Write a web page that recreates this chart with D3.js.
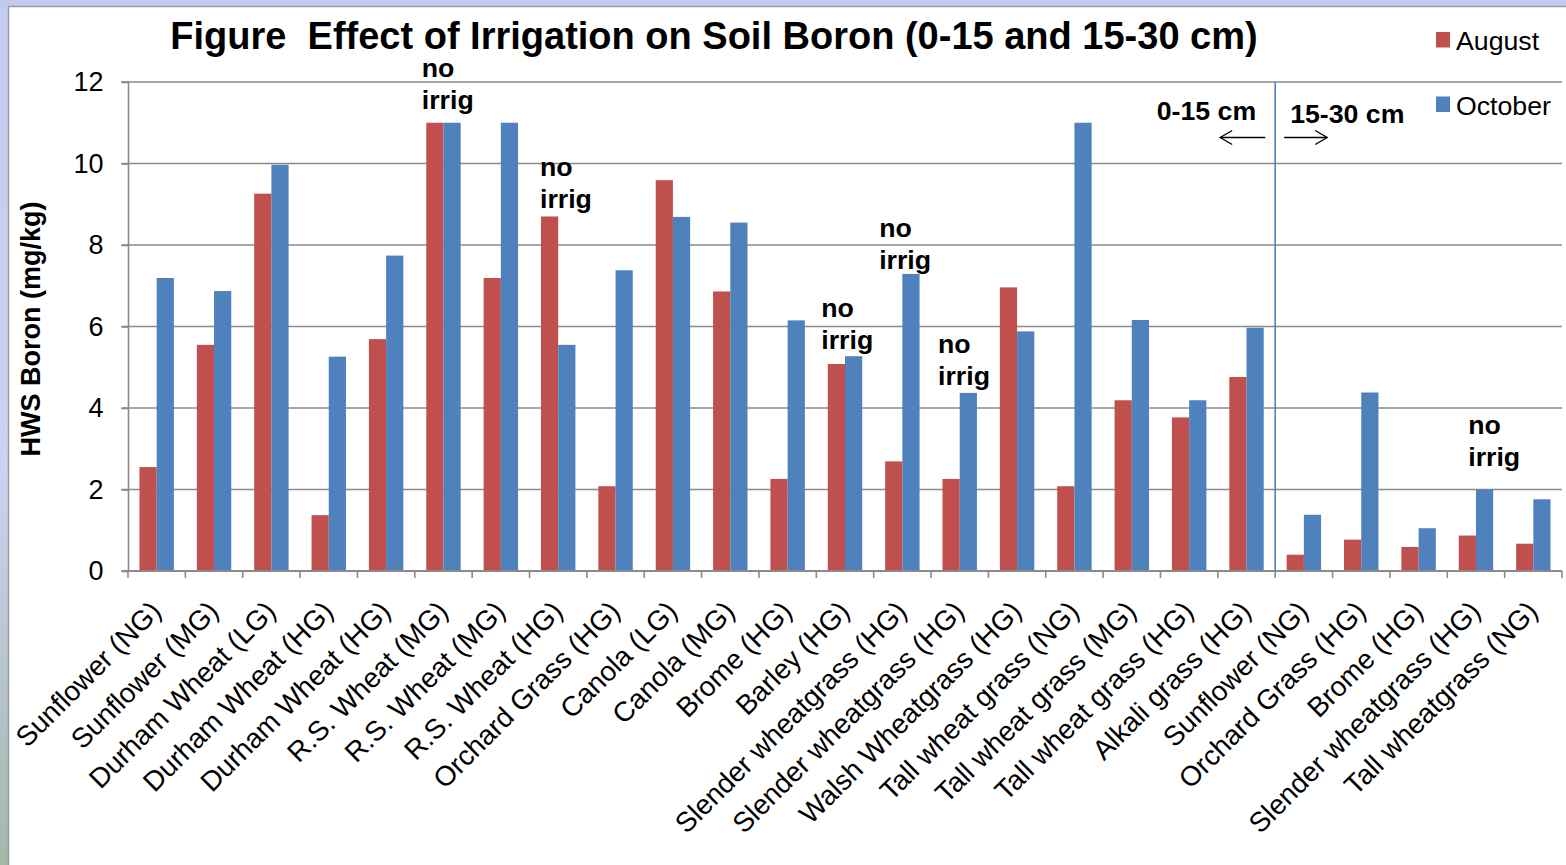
<!DOCTYPE html>
<html>
<head>
<meta charset="utf-8">
<script src="https://cdn.jsdelivr.net/npm/d3@7"></script>
<style>
  html, body { margin: 0; padding: 0; background: #ffffff; }
  svg { display: block; }
  text { font-family: "Liberation Sans", Arial, Helvetica, sans-serif; }
</style>
</head>
<body>
<svg id="chart" width="1566" height="865"></svg>
<script>
// ---------- data ----------
const categories = [
  "Sunflower (NG)", "Sunflower (MG)", "Durham Wheat (LG)", "Durham Wheat (HG)",
  "Durham Wheat (HG)", "R.S. Wheat (MG)", "R.S. Wheat (MG)", "R.S. Wheat (HG)",
  "Orchard Grass (HG)", "Canola (LG)", "Canola (MG)", "Brome (HG)", "Barley (HG)",
  "Slender wheatgrass (HG)", "Slender wheatgrass (HG)", "Walsh Wheatgrass (HG)",
  "Tall wheat grass (NG)", "Tall wheat grass (MG)", "Tall wheat grass (HG)",
  "Alkali grass (HG)", "Sunflower (NG)", "Orchard Grass (HG)", "Brome (HG)",
  "Slender wheatgrass (HG)", "Tall wheatgrass (NG)"
];
const august  = [2.55, 5.55, 9.26, 1.37, 5.69, 11.0, 7.19, 8.70, 2.08, 9.59, 6.86, 2.26, 5.08,
                 2.69, 2.26, 6.96, 2.08, 4.19, 3.77, 4.76, 0.40, 0.77, 0.59, 0.87, 0.67];
const october = [7.19, 6.87, 9.97, 5.26, 7.74, 11.0, 11.0, 5.55, 7.38, 8.69, 8.55, 6.15, 5.27,
                 7.29, 4.37, 5.88, 11.0, 6.16, 4.19, 5.97, 1.38, 4.38, 1.05, 2.00, 1.76];
const seriesNames = ["August", "October"];
const yTicks = [0, 2, 4, 6, 8, 10, 12];
const noIrrigIdx = [5, 7, 12, 13, 14, 23];
const noIrrigLevel = [11.34, 8.91, 5.46, 7.42, 4.56, 2.58]; // data-unit height of the "irrig" line
const depthSplitIdx = 20; // first 15-30 cm category

// ---------- layout / style ----------
const colors = { August: "#C0504D", October: "#4F81BD" };
const plot = { left: 128.5, right: 1562, top: 82, bottom: 571 };
const fontMain = 26.7;

const svg = d3.select("#chart");

// frame background
const defs = svg.append("defs");
const lg = defs.append("linearGradient").attr("id", "edge").attr("x1", 0).attr("y1", 0).attr("x2", 0).attr("y2", 1);
lg.append("stop").attr("offset", "0%").attr("stop-color", "#C6CCF0");
lg.append("stop").attr("offset", "55%").attr("stop-color", "#C9D3F2");
lg.append("stop").attr("offset", "100%").attr("stop-color", "#A3B8A9");
svg.append("rect").attr("x", 0).attr("y", 0).attr("width", 1566).attr("height", 865).attr("fill", "url(#edge)");
svg.append("rect").attr("x", 0).attr("y", 0).attr("width", 1566).attr("height", 6).attr("fill", "#C4CAEE");
svg.append("rect").attr("x", 8.5).attr("y", 6.5).attr("width", 1570).attr("height", 870)
  .attr("fill", "#ffffff").attr("stroke", "#9a9a9a").attr("stroke-width", 1.5);

// scales
const idx = categories.map((d, i) => i);
const x = d3.scaleBand().domain(idx).range([plot.left - 0.5, plot.right]).paddingInner(0.4).paddingOuter(0.2);
const xOuter = d3.scaleBand().domain(idx).range([plot.left - 0.5, plot.right]).padding(0);
const xs = d3.scaleBand().domain(seriesNames).range([0, x.bandwidth()]).padding(0);
const y = d3.scaleLinear().domain([0, 12]).range([plot.bottom, plot.top]);

// gridlines
svg.append("g").selectAll("line").data(yTicks.filter(t => t > 0)).join("line")
  .attr("x1", plot.left - 7).attr("x2", plot.right)
  .attr("y1", d => y(d)).attr("y2", d => y(d))
  .attr("stroke", "#8a8a8a").attr("stroke-width", 1.6);

// y axis
const yAxis = d3.axisLeft(y).tickValues(yTicks).tickSize(7).tickPadding(18).tickFormat(d3.format("d"));
const gy = svg.append("g").attr("transform", `translate(${plot.left},0)`).call(yAxis);
gy.select(".domain").attr("stroke", "#8a8a8a").attr("stroke-width", 1.6).attr("d", `M-7,${plot.top}H0V${plot.bottom}`);
gy.selectAll(".tick line").attr("stroke", "#8a8a8a").attr("stroke-width", 1.6);
gy.selectAll(".tick text").attr("font-size", 27).attr("fill", "#000")
  .attr("font-family", "'Liberation Sans', Arial, sans-serif");

// bars
const series = [
  { name: "August", values: august },
  { name: "October", values: october }
];
const barsG = svg.append("g");
series.forEach(s => {
  barsG.append("g").selectAll("rect").data(s.values.map((v, i) => ({ i, v }))).join("rect")
    .attr("x", d => x(d.i) + xs(s.name))
    .attr("width", xs.bandwidth())
    .attr("y", d => y(d.v))
    .attr("height", d => y(0) - y(d.v))
    .attr("fill", colors[s.name]);
});

// x axis
const xAxisG = svg.append("g").attr("transform", `translate(0,${plot.bottom})`);
xAxisG.append("line").attr("x1", plot.left - 7).attr("x2", plot.right)
  .attr("y1", 0).attr("y2", 0).attr("stroke", "#8a8a8a").attr("stroke-width", 1.8);
const boundaries = idx.map(i => xOuter(i)).concat([plot.right]);
xAxisG.selectAll("line.tk").data(boundaries).join("line").attr("class", "tk")
  .attr("x1", d => d).attr("x2", d => d).attr("y1", 0).attr("y2", 7)
  .attr("stroke", "#8a8a8a").attr("stroke-width", 1.6);
xAxisG.selectAll("text.lbl").data(idx).join("text").attr("class", "lbl")
  .attr("transform", d => `translate(${xOuter(d) + xOuter.bandwidth() / 2 + 6},42) rotate(-45)`)
  .attr("text-anchor", "end")
  .attr("font-size", 27.8)
  .text(d => categories[d]);

// depth divider
const divX = xOuter(depthSplitIdx);
svg.append("line").attr("x1", divX).attr("x2", divX).attr("y1", plot.top).attr("y2", plot.bottom)
  .attr("stroke", "#4F81BD").attr("stroke-width", 1.6);

// depth labels and arrows
svg.append("text").attr("x", divX - 19).attr("y", 120).attr("text-anchor", "end")
  .attr("font-size", fontMain).attr("font-weight", "bold").text("0-15 cm");
svg.append("text").attr("x", divX + 15).attr("y", 123).attr("text-anchor", "start")
  .attr("font-size", fontMain).attr("font-weight", "bold").text("15-30 cm");
const arrowY = 137.5;
function arrow(x1, x2) {
  const dir = Math.sign(x2 - x1);
  svg.append("line").attr("x1", x1).attr("x2", x2).attr("y1", arrowY).attr("y2", arrowY)
    .attr("stroke", "#000").attr("stroke-width", 1.3);
  svg.append("path")
    .attr("d", `M${x2 - dir * 12},${arrowY - 7}L${x2},${arrowY}L${x2 - dir * 12},${arrowY + 7}`)
    .attr("fill", "none").attr("stroke", "#000").attr("stroke-width", 1.3);
}
arrow(divX - 10, divX - 55);
arrow(divX + 9, divX + 52);

// "no irrig" annotations
const noIrrigDx = [7, 10.5, 5, 5.5, 7, 21];
noIrrigIdx.forEach((ci, k) => {
  const t = svg.append("text").attr("font-size", fontMain).attr("font-weight", "bold");
  const x0 = xOuter(ci) + noIrrigDx[k];
  const yb = y(noIrrigLevel[k]);
  t.append("tspan").attr("x", x0).attr("y", yb - 32).text("no");
  t.append("tspan").attr("x", x0).attr("y", yb).text("irrig");
});

// y axis title
svg.append("text")
  .attr("transform", `translate(40,329) rotate(-90)`)
  .attr("text-anchor", "middle").attr("font-size", 27).attr("font-weight", "bold")
  .text("HWS Boron (mg/kg)");

// title
svg.append("text").attr("x", 714).attr("y", 49).attr("text-anchor", "middle")
  .attr("font-size", 38).attr("font-weight", "bold").style("white-space", "pre")
  .text("Figure  Effect of Irrigation on Soil Boron (0-15 and 15-30 cm)");

// legend
const leg = svg.append("g");
seriesNames.forEach((n, i) => {
  leg.append("rect").attr("x", 1436).attr("y", 32 + i * 64.5).attr("width", 14).attr("height", 15.5)
    .attr("fill", colors[n]);
  leg.append("text").attr("x", 1456).attr("y", 50 + i * 64.5).attr("font-size", fontMain).text(n);
});
</script>
</body>
</html>
